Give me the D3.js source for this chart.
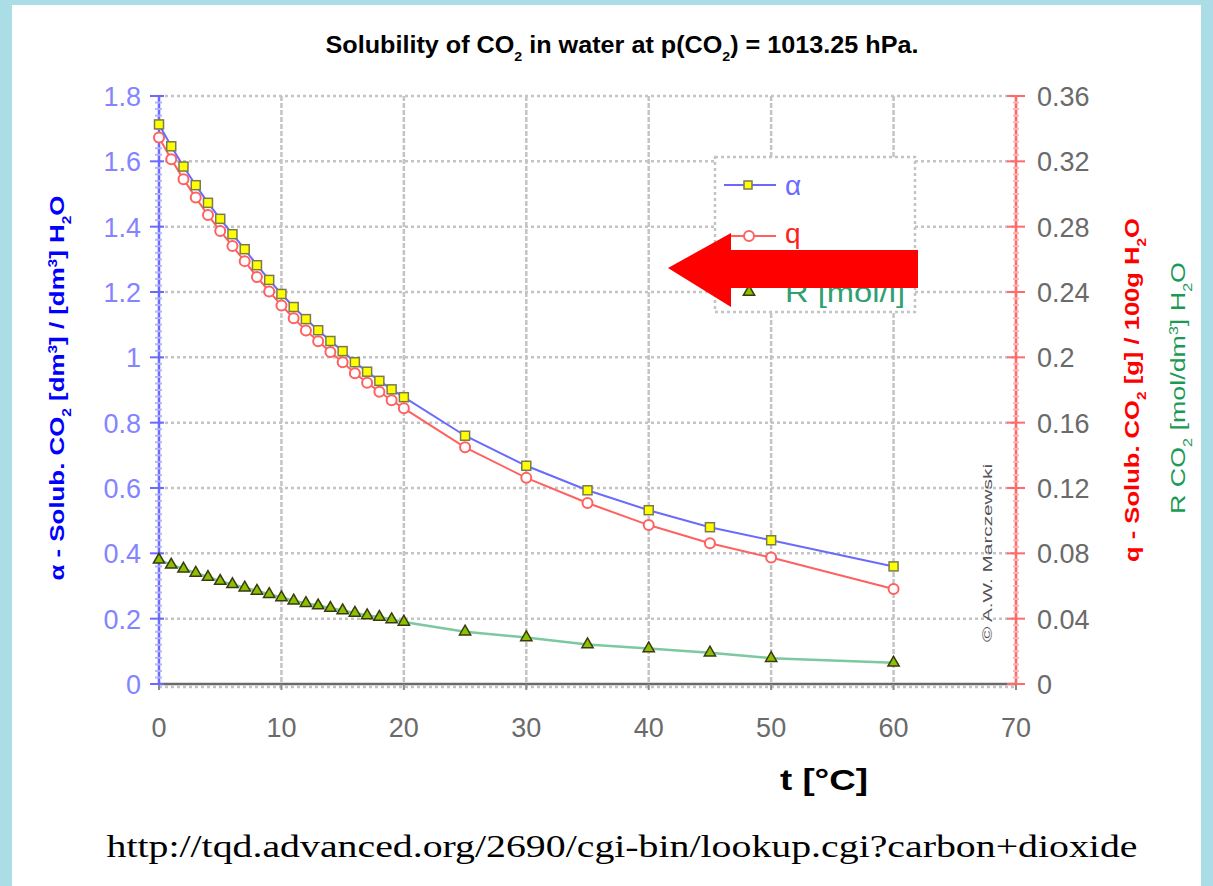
<!DOCTYPE html>
<html>
<head>
<meta charset="utf-8">
<script src="https://cdn.jsdelivr.net/npm/d3@7"></script>
<style>
  body { margin: 0; background: #aadde6; }
  svg { display: block; }
  text { font-family: "Liberation Sans", Arial, sans-serif; }
  text.url { font-family: "Liberation Serif", "Times New Roman", serif; }
</style>
</head>
<body>
<script>

// temperatures [°C]
var temps = [0, 1, 2, 3, 4, 5, 6, 7, 8, 9, 10, 11, 12, 13, 14, 15, 16, 17, 18, 19, 20, 25, 30, 35, 40, 45, 50, 60]

// alpha - solubility, dm3 CO2 / dm3 H2O (left axis)
var alpha = [1.713, 1.646, 1.584, 1.527, 1.473, 1.424, 1.377, 1.331, 1.282, 1.237, 1.194, 1.154, 1.117,
  1.083, 1.050, 1.019, 0.985, 0.956, 0.928, 0.902, 0.878, 0.760, 0.668, 0.593, 0.532, 0.480, 0.440, 0.360]

// q - g CO2 / 100 g H2O (right axis)
var qVals = [0.3346, 0.3213, 0.3091, 0.2978, 0.2871, 0.2774, 0.2681, 0.2589, 0.2492, 0.2403, 0.2318, 0.2239,
  0.2165, 0.2098, 0.2032, 0.1970, 0.1903, 0.1845, 0.1789, 0.1737, 0.1688, 0.1449, 0.1262, 0.1108, 0.0973,
  0.0862, 0.0774, 0.0582]

// R - mol/dm3 (right axis)
var rVals = [0.076, 0.073, 0.0705, 0.068, 0.0655, 0.063, 0.061, 0.059, 0.057, 0.055, 0.053, 0.051, 0.0495,
  0.048, 0.0465, 0.045, 0.0435, 0.042, 0.041, 0.0395, 0.038, 0.032, 0.0285, 0.0242, 0.0218, 0.0192, 0.0158, 0.013]

var xTicks = [0, 10, 20, 30, 40, 50, 60, 70]
var leftTicks = [0, 0.2, 0.4, 0.6, 0.8, 1, 1.2, 1.4, 1.6, 1.8]
var rightTicks = [0, 0.04, 0.08, 0.12, 0.16, 0.2, 0.24, 0.28, 0.32, 0.36]

var W = 1213, H = 886

var x = d3.scaleLinear().domain([0, 70]).range([159, 1016])
var yL = d3.scaleLinear().domain([0, 1.8]).range([684, 96])
var yR = d3.scaleLinear().domain([0, 0.36]).range([684, 96])

var svg = d3.select("body").append("svg")
    .attr("width", W)
    .attr("height", H)

// white panel
svg.append("rect")
    .attr("x", 12).attr("y", 5)
    .attr("width", 1189).attr("height", H - 5)
    .attr("fill", "white")

// title
var title = svg.append("text")
    .attr("x", 622).attr("y", 53)
    .attr("text-anchor", "middle")
    .attr("font-weight", "bold")
    .attr("font-size", 23)
    .attr("textLength", 593)
    .attr("lengthAdjust", "spacingAndGlyphs")
title.append("tspan").text("Solubility of CO")
title.append("tspan").attr("font-size", 13).attr("baseline-shift", "sub").text("2")
title.append("tspan").text(" in water at p(CO")
title.append("tspan").attr("font-size", 13).attr("baseline-shift", "sub").text("2")
title.append("tspan").text(") = 1013.25 hPa.")

// gridlines
svg.append("g").selectAll("line")
    .data(xTicks.slice(1))
  .enter().append("line")
    .attr("x1", function(d) { return x(d) })
    .attr("x2", function(d) { return x(d) })
    .attr("y1", yL(1.8)).attr("y2", yL(0))
    .attr("stroke", "#c4c4c4")
    .attr("stroke-width", 2.5)
    .attr("stroke-dasharray", "5,2")

svg.append("g").selectAll("line")
    .data(leftTicks)
  .enter().append("line")
    .attr("x1", x(0)).attr("x2", x(70))
    .attr("y1", function(d) { return yL(d) + (d == 0 ? 3 : 0) })
    .attr("y2", function(d) { return yL(d) + (d == 0 ? 3 : 0) })
    .attr("stroke", "#c4c4c4")
    .attr("stroke-width", 2.5)
    .attr("stroke-dasharray", "3,3")

// x axis
svg.append("line")
    .attr("x1", x(0)).attr("x2", x(70))
    .attr("y1", yL(0)).attr("y2", yL(0))
    .attr("stroke", "#6a6a6a").attr("stroke-width", 2.5)

svg.append("g").selectAll("line")
    .data(xTicks)
  .enter().append("line")
    .attr("x1", function(d) { return x(d) }).attr("x2", function(d) { return x(d) })
    .attr("y1", yL(0)).attr("y2", yL(0) + 6)
    .attr("stroke", "#8a8a8a").attr("stroke-width", 2)

svg.append("g").selectAll("text")
    .data(xTicks)
  .enter().append("text")
    .attr("x", function(d) { return x(d) })
    .attr("y", 737)
    .attr("text-anchor", "middle")
    .attr("font-size", 27)
    .attr("fill", "#6a6a6a")
    .text(function(d) { return d })

svg.append("text")
    .attr("x", 824).attr("y", 790)
    .attr("text-anchor", "middle")
    .attr("font-weight", "bold")
    .attr("font-size", 30)
    .attr("textLength", 88)
    .attr("lengthAdjust", "spacingAndGlyphs")
    .text("t [°C]")

// left axis (alpha)
svg.append("line")
    .attr("x1", x(0)).attr("x2", x(0))
    .attr("y1", yL(1.8)).attr("y2", yL(0))
    .attr("stroke", "#6a6aff").attr("stroke-width", 2.5)

svg.append("g").selectAll("line")
    .data(d3.range(0, 91).map(function(i) { return i * 0.02 }))
  .enter().append("line")
    .attr("x1", function(d, i) { return x(0) - (i % 10 == 0 ? 9 : 4) })
    .attr("x2", function(d, i) { return x(0) + (i % 10 == 0 ? 5 : 3) })
    .attr("y1", function(d) { return yL(d) }).attr("y2", function(d) { return yL(d) })
    .attr("stroke", function(d, i) { return i % 10 == 0 ? "#6a6aff" : "#b4b4ff" })
    .attr("stroke-width", 2)

svg.append("g").selectAll("text")
    .data(leftTicks)
  .enter().append("text")
    .attr("x", 141)
    .attr("y", function(d) { return yL(d) + 10 })
    .attr("text-anchor", "end")
    .attr("font-size", 27)
    .attr("fill", "#8484ff")
    .text(function(d) { return d })

var ltitle = svg.append("text")
    .attr("transform", "translate(64,388) rotate(-90)")
    .attr("text-anchor", "middle")
    .attr("font-weight", "bold")
    .attr("font-size", 20)
    .attr("fill", "#0000ff")
    .attr("textLength", 385)
    .attr("lengthAdjust", "spacingAndGlyphs")
ltitle.append("tspan").text("α - Solub. CO")
ltitle.append("tspan").attr("font-size", 12).attr("baseline-shift", "sub").text("2")
ltitle.append("tspan").text(" [dm")
ltitle.append("tspan").attr("font-size", 12).attr("baseline-shift", "super").text("3")
ltitle.append("tspan").text("] / [dm")
ltitle.append("tspan").attr("font-size", 12).attr("baseline-shift", "super").text("3")
ltitle.append("tspan").text("] H")
ltitle.append("tspan").attr("font-size", 12).attr("baseline-shift", "sub").text("2")
ltitle.append("tspan").text("O")

// right axis (q, R)
svg.append("line")
    .attr("x1", x(70)).attr("x2", x(70))
    .attr("y1", yR(0.36)).attr("y2", yR(0))
    .attr("stroke", "#ff6a6a").attr("stroke-width", 2.5)

svg.append("g").selectAll("line")
    .data(d3.range(0, 91).map(function(i) { return i * 0.004 }))
  .enter().append("line")
    .attr("x1", function(d, i) { return x(70) - (i % 10 == 0 ? 9 : 3) })
    .attr("x2", function(d, i) { return x(70) + (i % 10 == 0 ? 9 : 3) })
    .attr("y1", function(d) { return yR(d) }).attr("y2", function(d) { return yR(d) })
    .attr("stroke", function(d, i) { return i % 10 == 0 ? "#ff6a6a" : "#ffb4b4" })
    .attr("stroke-width", 2)

svg.append("g").selectAll("text")
    .data(rightTicks)
  .enter().append("text")
    .attr("x", 1037)
    .attr("y", function(d) { return yR(d) + 10 })
    .attr("font-size", 27)
    .attr("fill", "#6a6a6a")
    .text(function(d) { return d })

var rtitle = svg.append("text")
    .attr("transform", "translate(1139,390) rotate(-90)")
    .attr("text-anchor", "middle")
    .attr("font-weight", "bold")
    .attr("font-size", 20)
    .attr("fill", "#ff0000")
    .attr("textLength", 344)
    .attr("lengthAdjust", "spacingAndGlyphs")
rtitle.append("tspan").text("q - Solub. CO")
rtitle.append("tspan").attr("font-size", 12).attr("baseline-shift", "sub").text("2")
rtitle.append("tspan").text(" [g] / 100g H")
rtitle.append("tspan").attr("font-size", 12).attr("baseline-shift", "sub").text("2")
rtitle.append("tspan").text("O")

var gtitle = svg.append("text")
    .attr("transform", "translate(1185,388) rotate(-90)")
    .attr("text-anchor", "middle")
    .attr("font-size", 20)
    .attr("fill", "#1a9a55")
    .attr("textLength", 252)
    .attr("lengthAdjust", "spacingAndGlyphs")
gtitle.append("tspan").text("R CO")
gtitle.append("tspan").attr("font-size", 12).attr("baseline-shift", "sub").text("2")
gtitle.append("tspan").text(" [mol/dm")
gtitle.append("tspan").attr("font-size", 12).attr("baseline-shift", "super").text("3")
gtitle.append("tspan").text("] H")
gtitle.append("tspan").attr("font-size", 12).attr("baseline-shift", "sub").text("2")
gtitle.append("tspan").text("O")

// watermark
svg.append("text")
    .attr("transform", "translate(992,553) rotate(-90)")
    .attr("text-anchor", "middle")
    .attr("font-size", 12)
    .attr("fill", "#555")
    .attr("textLength", 178)
    .attr("lengthAdjust", "spacingAndGlyphs")
    .text("© A.W. Marczewski")

// series
var lineR = d3.line().x(function(d, i) { return x(temps[i]) }).y(function(d) { return yR(d) })
var lineL = d3.line().x(function(d, i) { return x(temps[i]) }).y(function(d) { return yL(d) })

svg.append("path").datum(rVals)
    .attr("d", lineR).attr("fill", "none")
    .attr("stroke", "#7cc8a0").attr("stroke-width", 2.5)

svg.append("g").selectAll("path")
    .data(rVals)
  .enter().append("path")
    .attr("d", d3.symbol().type(d3.symbolTriangle).size(55))
    .attr("transform", function(d, i) { return "translate(" + x(temps[i]) + "," + yR(d) + ")" })
    .attr("fill", "#8cc000").attr("stroke", "#3a3a10").attr("stroke-width", 1.5)

svg.append("path").datum(qVals)
    .attr("d", lineR).attr("fill", "none")
    .attr("stroke", "#ff6060").attr("stroke-width", 2)

svg.append("g").selectAll("circle")
    .data(qVals)
  .enter().append("circle")
    .attr("cx", function(d, i) { return x(temps[i]) })
    .attr("cy", function(d) { return yR(d) })
    .attr("r", 5)
    .attr("fill", "white").attr("stroke", "#ff6060").attr("stroke-width", 2)

svg.append("path").datum(alpha)
    .attr("d", lineL).attr("fill", "none")
    .attr("stroke", "#6a6aff").attr("stroke-width", 2)

svg.append("g").selectAll("rect")
    .data(alpha)
  .enter().append("rect")
    .attr("x", function(d, i) { return x(temps[i]) - 4.5 })
    .attr("y", function(d) { return yL(d) - 4.5 })
    .attr("width", 9).attr("height", 9)
    .attr("fill", "#ffff00").attr("stroke", "#7a7a50").attr("stroke-width", 1.5)

// legend
var legend = svg.append("g")
legend.append("rect")
    .attr("x", 715).attr("y", 157).attr("width", 200).attr("height", 155)
    .attr("fill", "white").attr("stroke", "#c4c4c4")
    .attr("stroke-width", 2.5).attr("stroke-dasharray", "3,3")

legend.append("line").attr("x1", 724).attr("x2", 776).attr("y1", 185).attr("y2", 185)
    .attr("stroke", "#6a6aff").attr("stroke-width", 2)
legend.append("rect").attr("x", 744).attr("y", 181).attr("width", 8).attr("height", 8)
    .attr("fill", "#ffff00").attr("stroke", "#7a7a50").attr("stroke-width", 1.5)
legend.append("text").attr("x", 785).attr("y", 195).attr("font-size", 28).attr("fill", "#6a6aff").text("α")

legend.append("line").attr("x1", 731).attr("x2", 776).attr("y1", 236).attr("y2", 236)
    .attr("stroke", "#ff6060").attr("stroke-width", 2)
legend.append("circle").attr("cx", 749).attr("cy", 236).attr("r", 5)
    .attr("fill", "white").attr("stroke", "#ff6060").attr("stroke-width", 2)
legend.append("text").attr("x", 785).attr("y", 243).attr("font-size", 28).attr("fill", "#ff2020").text("q")

legend.append("path")
    .attr("d", d3.symbol().type(d3.symbolTriangle).size(55))
    .attr("transform", "translate(749,292)")
    .attr("fill", "#8cc000").attr("stroke", "#3a3a10").attr("stroke-width", 1.5)
legend.append("text").attr("x", 785).attr("y", 302).attr("font-size", 27).attr("fill", "#30a070")
    .attr("textLength", 120).attr("lengthAdjust", "spacingAndGlyphs").text("R [mol/l]")

// red arrow
svg.append("polygon")
    .attr("points", [[918, 250], [731, 250], [731, 233], [668, 268], [731, 307], [731, 288], [918, 288]]
      .map(function(p) { return p.join(",") }).join(" "))
    .attr("fill", "#ff0000")

// source url
svg.append("text")
    .attr("class", "url")
    .attr("x", 622).attr("y", 857)
    .attr("text-anchor", "middle")
    .attr("font-size", 32)
    .attr("textLength", 1031)
    .attr("lengthAdjust", "spacingAndGlyphs")
    .text("http://tqd.advanced.org/2690/cgi-bin/lookup.cgi?carbon+dioxide")

</script>
</body>
</html>
